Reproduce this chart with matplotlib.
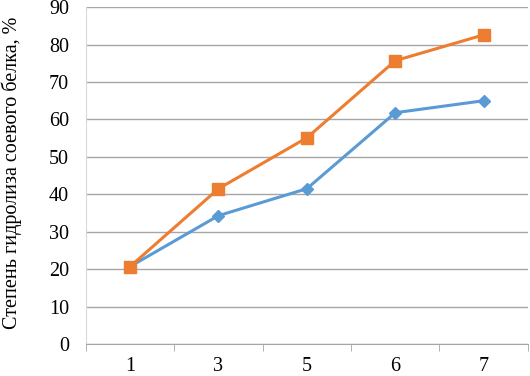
import matplotlib
matplotlib.use("Agg")
import matplotlib.pyplot as plt
from matplotlib.ticker import FixedLocator

plt.rcParams['font.family'] = ['Liberation Serif', 'DejaVu Serif']

# данные
categories = ['1', '3', '5', '6', '7']
series_blue = [20.7, 34.3, 41.5, 61.8, 65.0]
series_orange = [20.7, 41.5, 55.1, 75.7, 82.6]
y_ticks = [0, 10, 20, 30, 40, 50, 60, 70, 80, 90]

fig = plt.figure(figsize=(5.3, 3.76), dpi=100)
ax = fig.add_axes([0.162, 0.085, 0.834, 0.896])

x = list(range(len(categories)))
ax.plot(x, series_blue, color='#5B9BD5', lw=2.2, marker='D', ms=6.5, zorder=3)
ax.plot(x, series_orange, color='#ED7D31', lw=2.2, marker='s', ms=8, zorder=4)

ax.set_xlim(-0.5, len(categories) - 0.5)
ax.set_ylim(0, 90)
ax.set_yticks(y_ticks)
ax.set_xticks(x)
ax.set_xticklabels(categories)
ax.xaxis.set_minor_locator(FixedLocator([i - 0.5 for i in range(len(categories) + 1)]))
ax.tick_params(axis='x', which='major', length=0, labelsize=14.5, pad=9)
ax.tick_params(axis='x', which='minor', length=5, color='#A6A6A6', direction='out')
ax.tick_params(axis='y', length=0, labelsize=14.5, pad=12)

ax.grid(axis='y', color='#A6A6A6', lw=1)
ax.set_axisbelow(True)
for s in ['top', 'right']:
    ax.spines[s].set_visible(False)
ax.spines['left'].set_color('#D9D9D9')
ax.spines['bottom'].set_color('#A6A6A6')

ax.set_ylabel('Степень гидролиза соевого белка, %', fontsize=14.5)
ax.yaxis.set_label_coords(-0.145, 0.508)

fig.savefig('out.png', dpi=100)
